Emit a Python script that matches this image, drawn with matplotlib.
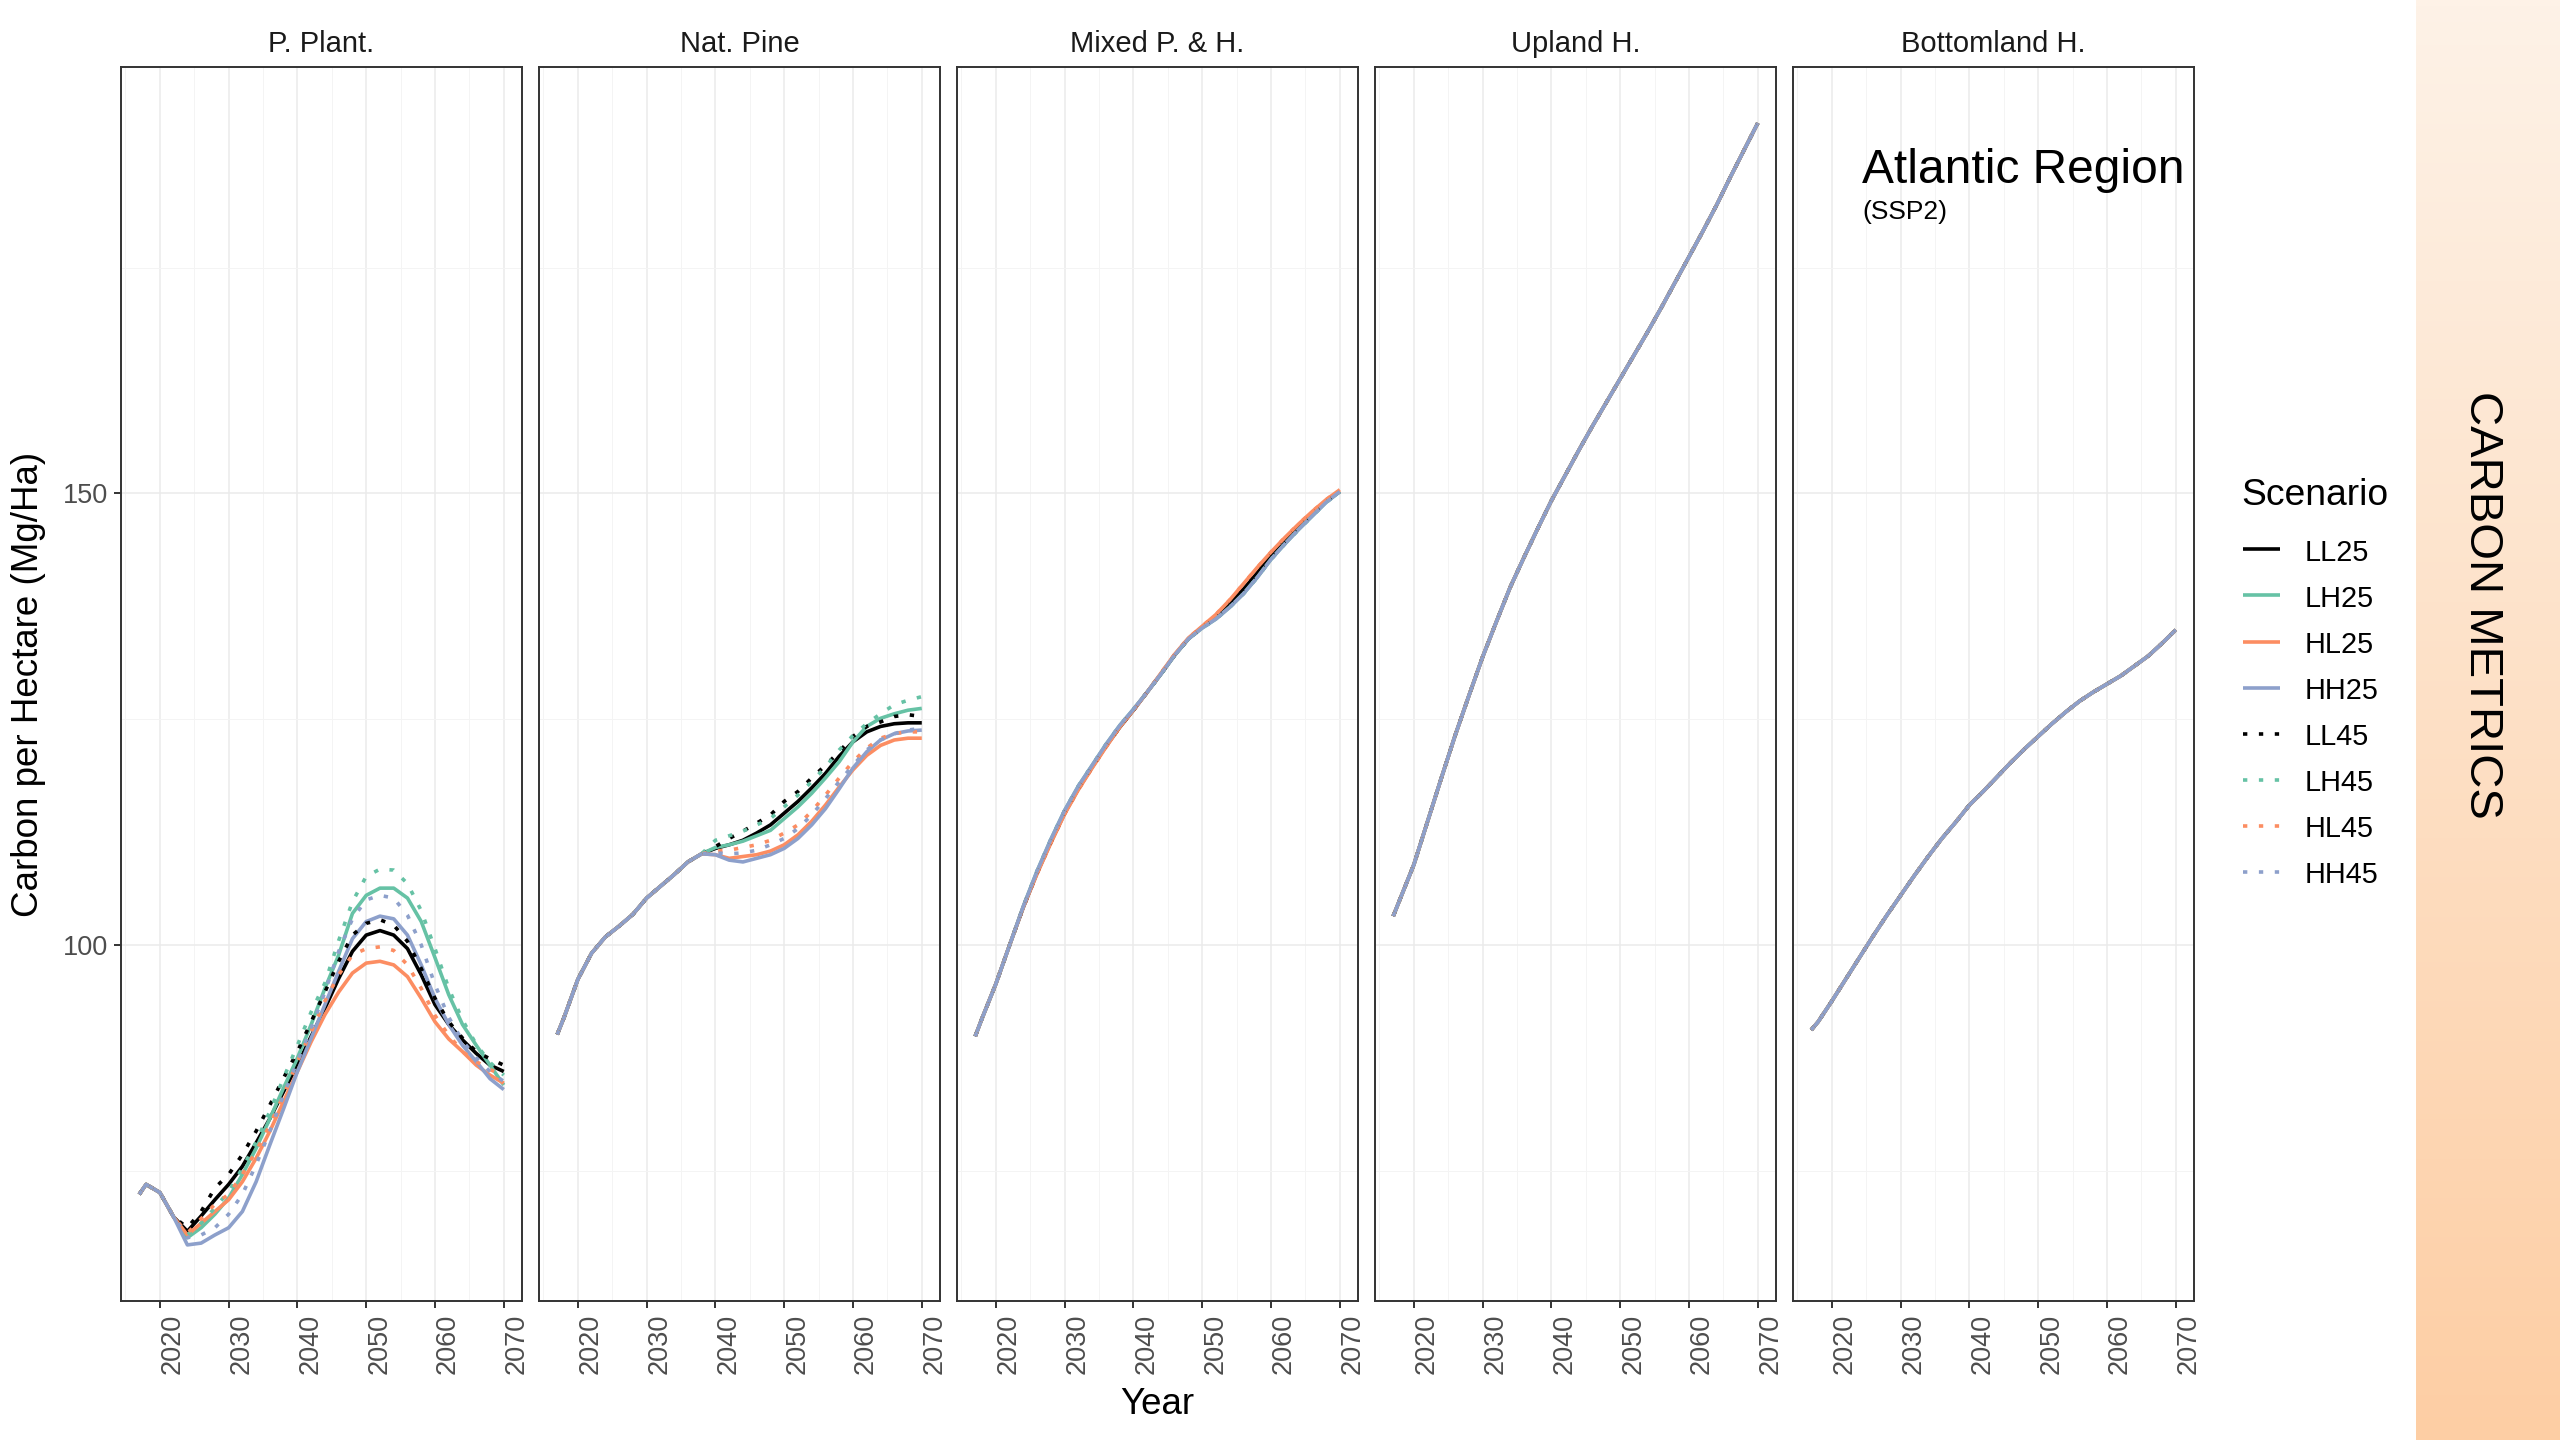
import numpy as np
import matplotlib
matplotlib.use("Agg")
import matplotlib.pyplot as plt
from matplotlib.lines import Line2D
from matplotlib.colors import LinearSegmentedColormap
from matplotlib import font_manager

plt.rcParams['font.family'] = ['Liberation Sans', 'DejaVu Sans']

# ---- data ----
YEARS = [2017, 2018, 2020, 2022, 2024, 2026, 2028, 2030, 2032, 2034, 2036, 2038, 2040,
         2042, 2044, 2046, 2048, 2050, 2052, 2054, 2056, 2058, 2060, 2062, 2064, 2066,
         2068, 2070]

PANELS = ["P. Plant.", "Nat. Pine", "Mixed P. & H.", "Upland H.", "Bottomland H."]
SCENARIOS = ["LL25", "LH25", "HL25", "HH25", "LL45", "LH45", "HL45", "HH45"]
COLORS = {"LL": "black", "LH": "#66C2A5", "HL": "#FC8D62", "HH": "#8DA0CB"}

# P. Plant.: shared 2017-2022, then 2024-2070
PP_START = [72.4, 73.5, 72.6, 69.9]
PP_LL25 = [68.3, 70.0, 71.8, 73.5, 75.5, 78.1, 80.8, 83.8, 86.7, 89.9, 93.0, 96.3,
           99.3, 101.1, 101.6, 101.1, 99.6, 96.7, 93.4, 91.2, 89.5, 88.0, 86.7, 86.0]
PP_LH25 = [67.6, 68.7, 70.2, 72.0, 74.6, 77.5, 80.8, 84.2, 87.5, 91.2, 95.2, 98.9,
           103.5, 105.5, 106.3, 106.3, 105.2, 102.6, 98.6, 94.5, 91.2, 88.9, 86.7, 84.5]
PP_HL25 = [67.9, 69.2, 70.5, 71.8, 73.8, 76.4, 79.4, 82.7, 86.0, 89.3, 92.3, 94.8,
           96.9, 98.0, 98.2, 97.8, 96.5, 94.1, 91.5, 89.6, 88.2, 86.7, 85.6, 84.7]
PP_HH25 = [66.8, 67.0, 67.9, 68.7, 70.5, 73.8, 77.9, 81.9, 86.0, 89.7, 93.4, 97.1,
           100.7, 102.6, 103.2, 102.9, 101.1, 97.8, 94.1, 91.2, 88.9, 87.1, 85.2, 84.0]
PP_LL45 = [68.7, 70.5, 73.1, 74.6, 76.8, 79.4, 82.3, 85.3, 88.2, 91.5, 94.8, 98.2,
           101.1, 102.4, 102.8, 102.2, 100.4, 97.4, 94.1, 91.5, 89.7, 88.2, 87.4, 86.7]
PP_LH45 = [67.9, 69.2, 70.9, 72.7, 75.3, 78.2, 81.6, 85.3, 88.9, 92.6, 95.8, 100.5,
           104.8, 107.6, 108.4, 108.3, 106.8, 103.8, 99.6, 95.2, 91.7, 89.0, 87.0, 85.6]
PP_HL45 = [68.1, 69.7, 71.3, 72.4, 74.6, 77.2, 80.1, 83.4, 87.1, 90.4, 93.8, 96.7,
           98.9, 99.6, 99.8, 99.4, 97.8, 95.2, 92.2, 90.0, 88.2, 87.1, 86.2, 85.6]
PP_HH45 = [67.6, 67.9, 68.7, 70.2, 72.4, 75.7, 79.4, 83.4, 87.1, 90.8, 94.8, 99.3,
           102.9, 105.0, 105.5, 105.2, 103.3, 100.0, 95.6, 92.0, 89.4, 87.5, 86.0, 84.9]

# Nat. Pine: shared 2017-2038, then 2040-2070
NP_START = [90.1, 92.0, 96.2, 99.1, 100.9, 102.1, 103.4, 105.2, 106.5, 107.8, 109.2, 110.1]
NP_LL25 = [110.7, 111.1, 111.6, 112.4, 113.3, 114.6, 115.9, 117.4, 119.0, 120.9, 122.5,
           123.6, 124.2, 124.5, 124.6, 124.6]
NP_LH25 = [110.8, 111.1, 111.5, 112.1, 112.7, 114.0, 115.3, 116.8, 118.5, 120.3, 122.5,
           124.2, 125.1, 125.6, 126.0, 126.2]
NP_HL25 = [110.0, 109.6, 109.8, 110.0, 110.4, 111.1, 112.2, 113.7, 115.5, 117.5, 119.4,
           121.0, 122.1, 122.7, 122.9, 122.9]
NP_HH25 = [110.0, 109.4, 109.2, 109.6, 110.0, 110.7, 111.8, 113.3, 115.1, 117.3, 119.6,
           121.4, 122.7, 123.4, 123.7, 123.8]
NP_LL45 = [110.9, 111.8, 112.6, 113.5, 114.4, 115.9, 117.0, 118.5, 119.9, 121.4, 123.1,
           124.2, 124.7, 125.3, 125.5, 125.3]
NP_LH45 = [111.6, 112.1, 112.6, 113.3, 114.0, 115.3, 116.6, 118.1, 119.7, 121.6, 123.2,
           124.5, 125.6, 126.6, 127.1, 127.5]
NP_HL45 = [110.4, 110.5, 110.8, 111.1, 111.6, 112.4, 113.3, 114.8, 116.6, 118.5, 120.3,
           121.8, 122.9, 123.4, 123.6, 123.6]
NP_HH45 = [110.2, 110.1, 110.2, 110.5, 111.1, 111.8, 112.9, 114.4, 116.2, 118.1, 119.9,
           121.6, 122.7, 123.4, 123.8, 124.0]

# Mixed P. & H. (lines almost on top of each other)
MIX_BASE = [89.9, 91.9, 95.7, 100.0, 104.3, 108.2, 111.7, 114.9, 117.6, 119.9, 122.2,
            124.3, 126.1, 128.0, 130.0, 132.1, 133.9, 135.1, 136.1, 137.4, 138.9, 140.7,
            142.7, 144.4, 146.0, 147.5, 149.0, 150.2]
MIX_LL = [89.9, 91.9, 95.7, 100.0, 104.2, 108.0, 111.4, 114.6, 117.3, 119.7, 122.0,
          124.1, 126.0, 128.0, 130.0, 132.1, 133.9, 135.2, 136.3, 137.8, 139.4, 141.2,
          143.1, 144.7, 146.3, 147.7, 149.1, 150.2]
MIX_HL = [89.9, 91.9, 95.7, 100.0, 104.2, 107.9, 111.3, 114.5, 117.2, 119.6, 121.9,
          124.1, 126.0, 128.0, 130.1, 132.2, 134.0, 135.3, 136.6, 138.2, 140.0, 141.8,
          143.5, 145.1, 146.6, 148.0, 149.3, 150.4]

# Upland H. and Bottomland H. (all scenarios overlap)
UPL = [103.2, 105.1, 108.9, 113.7, 118.5, 123.2, 127.6, 131.9, 135.8, 139.6, 142.9,
       146.1, 149.2, 152.0, 154.8, 157.5, 160.1, 162.7, 165.3, 167.9, 170.6, 173.4,
       176.2, 179.0, 181.9, 185.0, 188.0, 191.0]
BOT = [90.6, 91.5, 93.8, 96.2, 98.6, 101.0, 103.3, 105.5, 107.7, 109.8, 111.8, 113.6,
       115.5, 117.0, 118.6, 120.2, 121.7, 123.1, 124.5, 125.8, 127.0, 128.0, 128.9,
       129.8, 130.9, 132.0, 133.4, 134.9]

series = {
    "P. Plant.": {
        "LL25": PP_START + PP_LL25, "LH25": PP_START + PP_LH25,
        "HL25": PP_START + PP_HL25, "HH25": PP_START + PP_HH25,
        "LL45": PP_START + PP_LL45, "LH45": PP_START + PP_LH45,
        "HL45": PP_START + PP_HL45, "HH45": PP_START + PP_HH45,
    },
    "Nat. Pine": {
        "LL25": NP_START + NP_LL25, "LH25": NP_START + NP_LH25,
        "HL25": NP_START + NP_HL25, "HH25": NP_START + NP_HH25,
        "LL45": NP_START + NP_LL45, "LH45": NP_START + NP_LH45,
        "HL45": NP_START + NP_HL45, "HH45": NP_START + NP_HH45,
    },
    "Mixed P. & H.": {
        "LL25": MIX_LL, "LH25": MIX_BASE, "HL25": MIX_HL, "HH25": MIX_BASE,
        "LL45": MIX_LL, "LH45": MIX_BASE, "HL45": MIX_HL, "HH45": MIX_BASE,
    },
    "Upland H.": {s: UPL for s in SCENARIOS},
    "Bottomland H.": {s: BOT for s in SCENARIOS},
}

LW = 2.6
DOTS = (0, (1.2, 3.2))


def style(sc):
    return "-" if sc.endswith("25") else DOTS


# ---- figure ----
W, H = 2560, 1440
fig = plt.figure(figsize=(W / 100, H / 100), dpi=100)

# shaded side band
band = fig.add_axes([2416 / W, 0, 144 / W, 1])
cmap = LinearSegmentedColormap.from_list("band", ["#FEF2E7", "#FDCEA4"])
band.imshow(np.linspace(0, 1, 256).reshape(-1, 1), aspect="auto", cmap=cmap,
            extent=[0, 1, 0, 1], origin="upper")
band.axis("off")

names = {f.name for f in font_manager.fontManager.ttflist}
if "Liberation Sans Narrow" in names:
    band_font, band_size = "Liberation Sans Narrow", 41
else:
    band_font, band_size = "Liberation Sans", 34
fig.text(2482 / W, 1 - 605 / H, "CARBON METRICS", rotation=-90, ha="center",
         va="center", fontsize=band_size, family=band_font, color="black")

# shared scales (ggplot-like 5% expansion)
all_vals = [v for p in series.values() for s in p.values() for v in s]
ymin, ymax = min(all_vals), max(all_vals)
ypad = 0.05 * (ymax - ymin)
xpad = 0.05 * (YEARS[-1] - YEARS[0])

lefts = [121, 539, 957, 1375, 1793]
top, bottom, pw = 67, 1301, 401

for i, name in enumerate(PANELS):
    ax = fig.add_axes([lefts[i] / W, (H - bottom) / H, pw / W, (bottom - top) / H])
    for sc in SCENARIOS:
        ax.plot(YEARS, series[name][sc], color=COLORS[sc[:2]], lw=LW, ls=style(sc),
                solid_capstyle="butt", dash_capstyle="butt")
    ax.set_xlim(YEARS[0] - xpad, YEARS[-1] + xpad)
    ax.set_ylim(ymin - ypad, ymax + ypad)

    ax.set_xticks([2020, 2030, 2040, 2050, 2060, 2070])
    ax.set_xticks([2015, 2025, 2035, 2045, 2055, 2065], minor=True)
    ax.set_xticklabels(["2020", "2030", "2040", "2050", "2060", "2070"],
                       rotation=90, ha="left")
    ax.set_yticks([100, 150])
    ax.set_yticks([75, 125, 175], minor=True)

    ax.set_axisbelow(True)
    ax.grid(which="major", color="#EBEBEB", lw=1.1)
    ax.grid(which="minor", color="#F4F4F4", lw=0.7)
    for sp in ax.spines.values():
        sp.set_color("#333333")
        sp.set_linewidth(1.4)

    ax.tick_params(which="major", length=5, width=1.4, color="#333333",
                   labelsize=19.5, labelcolor="#4D4D4D", pad=4)
    ax.tick_params(which="minor", length=0)
    if i > 0:
        ax.tick_params(axis="y", which="both", length=0, labelleft=False)

    ax.set_title(name, fontsize=21, color="#1A1A1A", pad=11)

fig.text(29 / W, 1 - 684 / H, "Carbon per Hectare (Mg/Ha)", rotation=90,
         ha="center", va="center", fontsize=26.5)
fig.text(1157 / W, 1 - 1404 / H, "Year", ha="center", va="center", fontsize=26.5)

fig.text(1862 / W, 1 - 183 / H, "Atlantic Region", fontsize=34.5, va="baseline")
fig.text(1862 / W, 1 - 219 / H, "(SSP2)", fontsize=19, va="baseline")

# legend, laid out like the ggplot guide
fig.text(2241 / W, 1 - 505 / H, "Scenario", fontsize=26.8, va="baseline")
for k, sc in enumerate(SCENARIOS):
    base = 560.7 + 46.1 * k
    fig.add_artist(Line2D([2243 / W, 2280 / W], [1 - (base - 11.4) / H] * 2,
                          transform=fig.transFigure, color=COLORS[sc[:2]], lw=LW,
                          ls=style(sc), solid_capstyle="butt", dash_capstyle="butt"))
    fig.text(2305 / W, 1 - base / H, sc, fontsize=20.8, va="baseline")

fig.savefig("out.png", dpi=100, facecolor="white")
